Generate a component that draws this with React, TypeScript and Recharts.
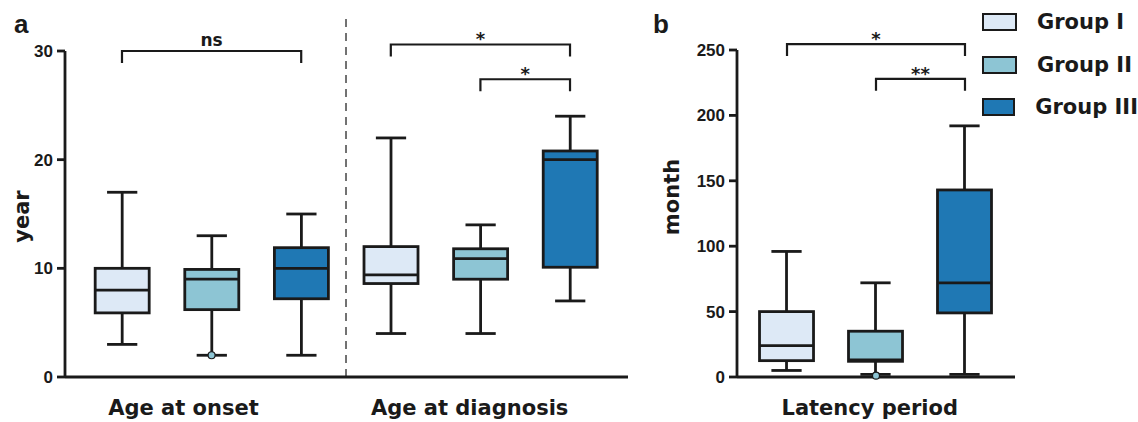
import { ComposedChart, Bar, Scatter, XAxis, YAxis, ReferenceLine, Legend } from "recharts";

const groupNames = ["Group I", "Group II", "Group III"];
const groupColors = ["#dde9f6", "#8dc5d4", "#1f78b4"];

// year: boxes 1-3 = age at onset, 4-6 = age at diagnosis (Group I, II, III)
const ageCategories = ["Age at onset", "Age at diagnosis"];
const ageMin = [3, 2, 2, 4, 4, 7];
const ageQ1 = [5.9, 6.2, 7.2, 8.6, 9, 10.1];
const ageMedian = [8, 9, 10, 9.4, 10.9, 20];
const ageQ3 = [10, 9.9, 11.9, 12, 11.8, 20.8];
const ageMax = [17, 13, 15, 22, 14, 24];
const ageOutliers = [{ pos: 2, value: 2 }];
const ageTicks = [0, 10, 20, 30];

// month: latency period, Group I, II, III
const latencyCategories = ["Latency period"];
const latencyMin = [5, 2, 2];
const latencyQ1 = [12.5, 12, 49];
const latencyMedian = [24, 13, 72];
const latencyQ3 = [50, 35, 143];
const latencyMax = [96, 72, 192];
const latencyOutliers = [{ pos: 2, value: 1 }];
const latencyTicks = [0, 50, 100, 150, 200, 250];

// significance brackets (box index from/to, bracket level in axis units)
const ageBrackets = [
  { from: 1, to: 3, level: 30, text: "ns" },
  { from: 4, to: 6, level: 30.6, text: "*" },
  { from: 5, to: 6, level: 27.4, text: "*" },
];
const latencyBrackets = [
  { from: 1, to: 3, level: 254.5, text: "*" },
  { from: 2, to: 3, level: 228, text: "**" },
];

const INK = "#1a1a1a";
const TITLE_FONT = "DejaVu Sans, Verdana, sans-serif";
const TICK_FONT = "Liberation Sans, Arial, sans-serif";
const LW = 2.8;

type Row = { pos: number; group: number; min: number; q1: number; median: number; q3: number; max: number };

const toRows = (min: number[], q1: number[], median: number[], q3: number[], max: number[]): Row[] =>
  min.map((m, i) => ({ pos: i + 1, group: i % 3, min: m, q1: q1[i], median: median[i], q3: q3[i], max: max[i] }));

const ageRows = toRows(ageMin, ageQ1, ageMedian, ageQ3, ageMax);
const latencyRows = toRows(latencyMin, latencyQ1, latencyMedian, latencyQ3, latencyMax);

// bar spans [min, max]; the other stats are placed inside that pixel range
function BoxShape(props: any) {
  const { x, y, width, height, payload } = props;
  if (!payload || !isFinite(y)) return null;
  const d: Row = payload;
  const top = Math.min(y, y + height);
  const h = Math.abs(height);
  const py = (v: number) => top + (h * (d.max - v)) / (d.max - d.min);
  const cx = x + width / 2;
  const cap = width * 0.28;
  return (
    <g stroke={INK} strokeWidth={LW}>
      <line x1={cx} x2={cx} y1={py(d.max)} y2={py(d.q3)} />
      <line x1={cx} x2={cx} y1={py(d.q1)} y2={py(d.min)} />
      <line x1={cx - cap} x2={cx + cap} y1={py(d.max)} y2={py(d.max)} />
      <line x1={cx - cap} x2={cx + cap} y1={py(d.min)} y2={py(d.min)} />
      <rect x={x} y={py(d.q3)} width={width} height={py(d.q1) - py(d.q3)} fill={groupColors[d.group]} />
      <line x1={x} x2={x + width} y1={py(d.median)} y2={py(d.median)} />
    </g>
  );
}

const bracketShape = (text: string) => (p: any) => {
  const { x1, x2, y1 } = p;
  const star = text.includes("*");
  return (
    <g>
      <path d={`M${x1},${y1 + 12}V${y1}H${x2}V${y1 + 12}`} fill="none" stroke={INK} strokeWidth={2.2} />
      <text
        x={(x1 + x2) / 2}
        y={star ? y1 + 1 : y1 - 5}
        textAnchor="middle"
        fontFamily={TITLE_FONT}
        fontWeight="bold"
        fontSize={star ? 18 : 17}
        fill={INK}
      >
        {text}
      </text>
    </g>
  );
};

const outlierDot = (p: any) => (
  <circle cx={p.cx} cy={p.cy} r={3.5} fill={groupColors[1]} stroke={INK} strokeWidth={1.2} />
);

function GroupTick(props: any) {
  const { x, y, index, labels } = props;
  return (
    <text x={x} y={y + 38} textAnchor="middle" fontFamily={TITLE_FONT} fontWeight="bold" fontSize={21} fill={INK}>
      {labels[index]}
    </text>
  );
}

function AxisTitle(props: any) {
  const { viewBox, text, shiftX, shiftY } = props;
  const cx = viewBox.x + shiftX;
  const cy = viewBox.y + viewBox.height / 2 + shiftY;
  return (
    <text
      x={cx}
      y={cy}
      transform={`rotate(-90, ${cx}, ${cy})`}
      textAnchor="middle"
      dominantBaseline="central"
      fontFamily={TITLE_FONT}
      fontWeight="bold"
      fontSize={21}
      fill={INK}
    >
      {text}
    </text>
  );
}

function GroupLegend() {
  return (
    <div style={{ display: "flex", flexDirection: "column", gap: 24.5 }}>
      {groupNames.map((name, i) => (
        <div key={name} style={{ display: "flex", alignItems: "center", height: 18 }}>
          <span
            style={{
              width: 35,
              height: 18,
              boxSizing: "border-box",
              border: `${LW}px solid ${INK}`,
              background: groupColors[i],
            }}
          />
          <span
            style={{
              marginLeft: 20,
              fontFamily: TITLE_FONT,
              fontWeight: "bold",
              fontSize: 21,
              lineHeight: "18px",
              color: INK,
              whiteSpace: "nowrap",
            }}
          >
            {name}
          </span>
        </div>
      ))}
    </div>
  );
}

const axisLine = { stroke: INK, strokeWidth: LW };
const yTick = { fill: INK, fontSize: 17, fontWeight: "bold", fontFamily: TICK_FONT };
const panelLetter = {
  position: "absolute" as const,
  top: 11,
  fontFamily: TICK_FONT,
  fontWeight: "bold",
  fontSize: 26,
  lineHeight: "26px",
  color: INK,
};

// where the category names sit along the x axis (box index units)
const AGE_LABEL_AT = [1.686, 4.88];
const LATENCY_LABEL_AT = [1.93];

export default function App() {
  return (
    <div style={{ position: "absolute", left: 0, top: 0, width: 1138, height: 422, background: "#fff" }}>
      <div style={{ ...panelLetter, left: 14 }}>a</div>
      <div style={{ ...panelLetter, left: 653 }}>b</div>

      <div style={{ position: "absolute", left: 0, top: 0 }}>
        <ComposedChart width={640} height={422} data={ageRows} margin={{ top: 51, right: 12, bottom: 5, left: 5 }}>
          <XAxis
            type="number"
            dataKey="pos"
            domain={[0.364, 6.647]}
            allowDataOverflow
            ticks={AGE_LABEL_AT}
            interval={0}
            height={40}
            tickLine={false}
            tickSize={0}
            tickMargin={0}
            axisLine={axisLine}
            tick={<GroupTick labels={ageCategories} />}
          />
          <YAxis
            type="number"
            domain={[0, 30]}
            ticks={ageTicks}
            interval={0}
            width={60}
            axisLine={axisLine}
            tickLine={axisLine}
            tickSize={8}
            tickMargin={4}
            tick={yTick}
            label={<AxisTitle text="year" shiftX={16.5} shiftY={2.5} />}
          />
          <ReferenceLine
            segment={[{ x: 3.5, y: 0 }, { x: 3.5, y: 33.3 }]}
            stroke="#444"
            strokeWidth={1.5}
            strokeDasharray="8 6"
            ifOverflow="visible"
          />
          <Bar dataKey={(d: Row) => [d.min, d.max]} barSize={54} shape={BoxShape} isAnimationActive={false} />
          <Scatter data={ageOutliers} dataKey="value" shape={outlierDot} isAnimationActive={false} />
          {ageBrackets.map((b, i) => (
            <ReferenceLine
              key={i}
              segment={[{ x: b.from, y: b.level }, { x: b.to, y: b.level }]}
              ifOverflow="visible"
              shape={bracketShape(b.text)}
            />
          ))}
        </ComposedChart>
      </div>

      <div style={{ position: "absolute", left: 640, top: 0 }}>
        <ComposedChart width={498} height={422} data={latencyRows} margin={{ top: 50, right: 123, bottom: 5, left: 5 }}>
          <XAxis
            type="number"
            dataKey="pos"
            domain={[0.438, 3.562]}
            allowDataOverflow
            ticks={LATENCY_LABEL_AT}
            interval={0}
            height={40}
            tickLine={false}
            tickSize={0}
            tickMargin={0}
            axisLine={axisLine}
            tick={<GroupTick labels={latencyCategories} />}
          />
          <YAxis
            type="number"
            domain={[0, 250]}
            ticks={latencyTicks}
            interval={0}
            width={92}
            axisLine={axisLine}
            tickLine={axisLine}
            tickSize={8}
            tickMargin={4}
            tick={yTick}
            label={<AxisTitle text="month" shiftX={27} shiftY={-16.5} />}
          />
          <Bar dataKey={(d: Row) => [d.min, d.max]} barSize={54} shape={BoxShape} isAnimationActive={false} />
          <Scatter data={latencyOutliers} dataKey="value" shape={outlierDot} isAnimationActive={false} />
          {latencyBrackets.map((b, i) => (
            <ReferenceLine
              key={i}
              segment={[{ x: b.from, y: b.level }, { x: b.to, y: b.level }]}
              ifOverflow="visible"
              shape={bracketShape(b.text)}
            />
          ))}
          <Legend
            layout="vertical"
            align="center"
            verticalAlign="middle"
            wrapperStyle={{ left: 342, top: 13, width: 156 }}
            content={() => <GroupLegend />}
          />
        </ComposedChart>
      </div>
    </div>
  );
}
